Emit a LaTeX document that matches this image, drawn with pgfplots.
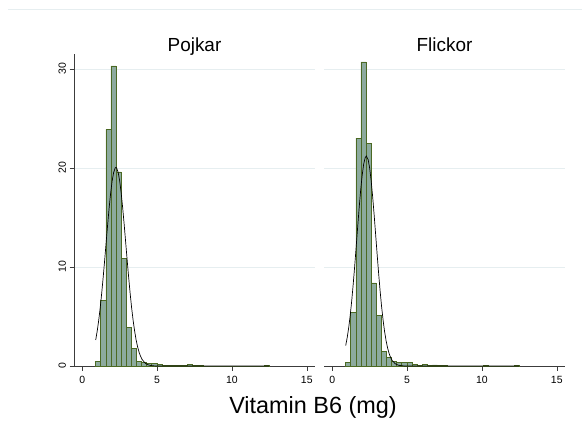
\documentclass[border=0pt]{standalone}
\usepackage{pgfplots}
\pgfplotsset{compat=1.18}
\usepackage{pgfplotstable}
\usepackage{fontspec}
\setmainfont{Liberation Sans}
\definecolor{barfill}{RGB}{140,170,158}
\definecolor{baredge}{RGB}{75,105,35}
\definecolor{gridc}{RGB}{230,238,240}
\definecolor{axc}{RGB}{60,60,60}
\pgfplotstableread{
x p f
0.890 0.5 0.34
1.231 6.6 5.4
1.572 23.9 23.0
1.913 30.3 30.7
2.254 19.6 22.5
2.595 10.9 8.4
2.936 3.9 5.1
3.277 1.8 1.5
3.618 0.45 0.9
3.959 0.4 0.5
4.300 0.25 0.4
4.641 0.25 0.4
4.982 0.15 0.4
5.323 0.05 0.2
5.664 0.05 0.05
6.005 0.05 0.17
6.346 0.03 0.05
6.687 0.05 0.12
7.028 0.15 0.05
7.369 0.05 0.05
7.710 0.03 0
8.051 0 0
8.392 0 0
8.733 0 0
9.074 0 0
9.415 0 0
9.756 0 0
10.097 0 0.05
10.438 0 0
10.779 0 0
11.120 0 0
11.461 0 0
11.802 0 0
12.143 0.05 0.03
12.484 0 0
}\bins
\pgfplotstableread{
x y
0.9 2.63
1.0 3.52
1.1 4.60
1.2 5.87
1.3 7.34
1.4 8.97
1.5 10.71
1.6 12.52
1.7 14.32
1.8 16.00
1.9 17.49
2.0 18.70
2.1 19.55
2.2 19.99
2.25 20.05
2.3 19.99
2.4 19.55
2.5 18.70
2.6 17.49
2.7 16.00
2.8 14.32
2.9 12.52
3.0 10.71
3.1 8.97
3.2 7.34
3.3 5.87
3.4 4.60
3.5 3.52
3.6 2.63
3.7 1.93
3.8 1.38
3.9 0.97
4.0 0.66
4.2 0.29
4.4 0.12
4.6 0.043
4.8 0.014
5.0 0.004
5.5 0
12.48 0
}\normp
\pgfplotstableread{
x y
0.9 2.07
1.0 2.87
1.1 3.87
1.2 5.10
1.3 6.57
1.4 8.24
1.5 10.09
1.6 12.06
1.7 14.06
1.8 16.00
1.9 17.77
2.0 19.26
2.1 20.38
2.2 21.03
2.28 21.2
2.4 20.83
2.5 19.98
2.6 18.71
2.7 17.09
2.8 15.24
2.9 13.26
3.0 11.26
3.1 9.33
3.2 7.55
3.3 5.95
3.4 4.59
3.5 3.45
3.6 2.53
3.7 1.81
3.8 1.26
3.9 0.86
4.0 0.57
4.2 0.235
4.4 0.088
4.6 0.030
4.8 0.009
5.0 0.002
5.5 0
12.48 0
}\normf
\pgfplotsset{panel/.style={
  scale only axis, width=241bp, height=312bp,
  xmin=-0.55, xmax=15.55, ymin=0, ymax=31.5,
  axis x line*=bottom, axis y line*=left,
  xtick={0,5,10,15}, ytick={0,10,20,30},
  ymajorgrids, grid style={gridc, line width=0.6pt},
  tick align=outside, major tick length=4.5bp,
  tick style={axc, line width=0.5pt},
  axis line style={axc, line width=0.6pt},
  ticklabel style={font=\fontsize{10.5}{12}\selectfont},
  /pgf/number format/assume math mode=true,
  yticklabel style={rotate=90, anchor=south},
  xticklabel style={yshift=-2bp},
  title style={font=\fontsize{19}{22}\selectfont, at={(axis description cs:0.5,1)}, anchor=base, yshift=-3bp},
}}
\begin{document}
\begin{tikzpicture}[x=1bp,y=1bp]
\useasboundingbox (0,0) rectangle (582,428);
\draw[color=gridc, line width=0.5pt] (8,418.5) -- (582,418.5);
\begin{axis}[panel, at={(74bp,62bp)}, anchor=south west, title={Pojkar}]
\addplot[ybar interval, fill=barfill, draw=baredge, line width=0.5pt] table[x=x,y=p]{\bins};
\addplot[black, line width=0.7pt] table[x=x,y=y]{\normp};
\end{axis}
\begin{axis}[panel, at={(324bp,62bp)}, anchor=south west, title={Flickor},
  y axis line style={draw=none}, ytick style={draw=none}, yticklabels={}]
\addplot[ybar interval, fill=barfill, draw=baredge, line width=0.5pt] table[x=x,y=f]{\bins};
\addplot[black, line width=0.7pt] table[x=x,y=y]{\normf};
\end{axis}
\node[font=\fontsize{23.5}{28}\selectfont, anchor=base] at (313,15) {Vitamin B6 (mg)};
\end{tikzpicture}
\end{document}
